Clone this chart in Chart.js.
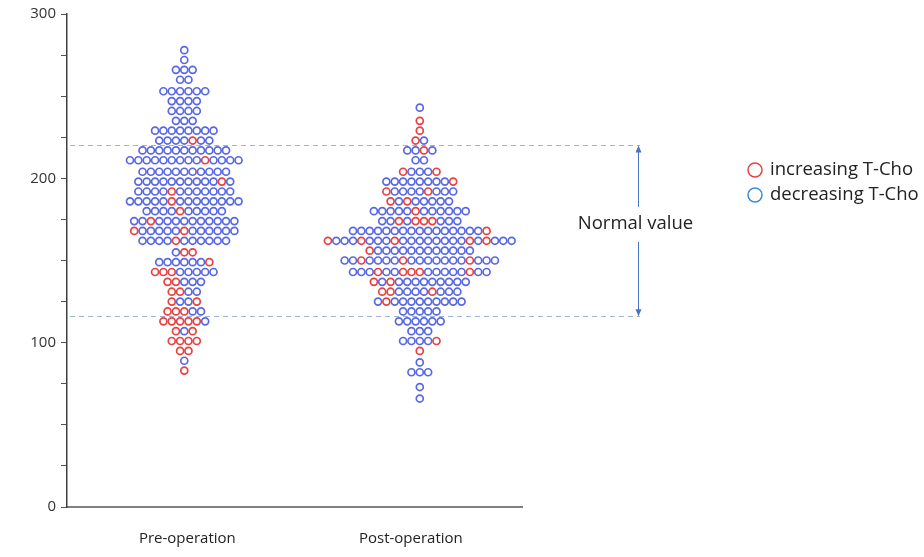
<!DOCTYPE html>
<html lang="en">
<head>
  <meta charset="UTF-8">
  <title>T-Cho before and after operation</title>
  <script src="https://cdn.jsdelivr.net/npm/chart.js"></script>
  <style>
    body {
      margin: 0;
      background: #ffffff;
      font-family: "Open Sans", sans-serif;
    }
    .wrap {
      position: relative;
      width: 924px;
      height: 557px;
    }
  </style>
</head>
<body>
  <div class="wrap">
    <canvas id="swarm"></canvas>
  </div>

  <script>
    const categories = ['Pre-operation', 'Post-operation'];
    const seriesNames = ['increasing T-Cho', 'decreasing T-Cho'];
    const normalRange = [116, 220];

    // pre-operation: one entry per row of the swarm (value, number of dots, which dots are red)
    const preRows = [278, 272, 266, 260, 253, 247, 241, 235, 229, 223, 217, 211, 204, 198, 192, 186, 180,
      174, 168, 162, 155, 149, 143, 137, 131, 125, 119, 113, 107, 101, 95, 89, 83];
    const preCounts = [1, 1, 3, 2, 6, 4, 4, 3, 8, 7, 11, 14, 11, 12, 12, 14, 10,
      13, 13, 11, 3, 7, 8, 5, 4, 4, 5, 6, 3, 4, 2, 1, 1];
    const preRed = [[], [], [], [], [], [], [], [], [], [4], [], [9], [], [10], [4], [5], [4],
      [2], [0, 6], [4], [1, 2], [6], [0, 1, 2], [0, 1], [0, 1], [0, 3], [0, 1, 2], [0, 1, 2, 3, 4], [0, 2], [0, 1, 2, 3], [0, 1], [], [0]];

    // post-operation
    const postRows = [243, 235, 229, 223, 217, 211, 204, 198, 192, 186, 180, 174, 168, 162, 156,
      150, 143, 137, 131, 125, 119, 113, 107, 101, 95, 88, 82, 73, 66];
    const postCounts = [1, 1, 1, 2, 4, 2, 5, 9, 9, 8, 12, 10, 17, 23, 13,
      19, 17, 12, 10, 11, 5, 6, 3, 5, 1, 1, 3, 1, 1];
    const postRed = [[], [0], [0], [0], [2], [], [0, 4], [8], [0, 5], [0, 2], [5], [2, 4, 5, 6], [16], [0, 4, 8, 17, 19], [0],
      [2, 7, 15], [3, 6, 7, 8, 14], [0, 2], [0, 1, 6], [1], [], [], [], [4], [0], [], [], [], []];

    const RED = '#e8413f';
    const BLUE = '#5868e4';
    const LEGEND_BLUE = '#3d8ec4';
    const STEP = 0.03545; // horizontal spacing of dots in a row (x units)

    function swarm(center, rows, counts, reds, wantRed) {
      const pts = [];
      rows.forEach((y, r) => {
        const n = counts[r];
        for (let j = 0; j < n; j++) {
          if (reds[r].includes(j) !== wantRed) continue;
          pts.push({ x: center + (j - (n - 1) / 2) * STEP, y: y });
        }
      });
      return pts;
    }

    const increasing = swarm(1, preRows, preCounts, preRed, true)
      .concat(swarm(2, postRows, postCounts, postRed, true));
    const decreasing = swarm(1, preRows, preCounts, preRed, false)
      .concat(swarm(2, postRows, postCounts, postRed, false));

    // dashed normal range lines, arrow, label and legend
    const annotations = {
      id: 'annotations',
      beforeDatasetsDraw(chart) {
        const { ctx, chartArea, scales } = chart;
        ctx.save();
        ctx.strokeStyle = '#9fb2d3';
        ctx.lineWidth = 1;
        ctx.setLineDash([5, 4]);
        normalRange.forEach(v => {
          const y = Math.round(scales.y.getPixelForValue(v)) + 0.5;
          ctx.beginPath();
          ctx.moveTo(chartArea.left + 3, y);
          ctx.lineTo(chartArea.right + 118, y);
          ctx.stroke();
        });
        ctx.restore();
      },
      afterDraw(chart) {
        const { ctx, chartArea, scales } = chart;
        const yTop = scales.y.getPixelForValue(normalRange[1]);
        const yBot = scales.y.getPixelForValue(normalRange[0]);
        const ax = chartArea.right + 116.5;
        const mid = (yTop + yBot) / 2 - 7;
        ctx.save();
        ctx.strokeStyle = '#4a72c0';
        ctx.fillStyle = '#4a72c0';
        ctx.lineWidth = 1;
        ctx.beginPath();
        ctx.moveTo(ax, yTop + 6);
        ctx.lineTo(ax, mid - 17);
        ctx.moveTo(ax, mid + 18);
        ctx.lineTo(ax, yBot - 6);
        ctx.stroke();
        ctx.beginPath();
        ctx.moveTo(ax, yTop);
        ctx.lineTo(ax - 3, yTop + 7);
        ctx.lineTo(ax + 3, yTop + 7);
        ctx.closePath();
        ctx.fill();
        ctx.beginPath();
        ctx.moveTo(ax, yBot);
        ctx.lineTo(ax - 3, yBot - 7);
        ctx.lineTo(ax + 3, yBot - 7);
        ctx.closePath();
        ctx.fill();

        ctx.fillStyle = '#222';
        ctx.font = '18.5px "Open Sans", sans-serif';
        ctx.textAlign = 'center';
        ctx.textBaseline = 'middle';
        ctx.fillText('Normal value', ax - 3, mid);

        // legend
        const lx = chartArea.right + 233;
        const colors = [RED, LEGEND_BLUE];
        ctx.textAlign = 'left';
        ctx.font = '18.5px "Open Sans", sans-serif';
        seriesNames.forEach((name, i) => {
          const ly = 170 + i * 25;
          ctx.beginPath();
          ctx.strokeStyle = colors[i];
          ctx.lineWidth = 1.5;
          ctx.arc(lx, ly, 7, 0, Math.PI * 2);
          ctx.stroke();
          ctx.fillStyle = '#222';
          ctx.fillText(name, lx + 15, ly);
        });
        ctx.restore();
      }
    };

    const ctx = document.getElementById('swarm').getContext('2d');
    new Chart(ctx, {
      type: 'scatter',
      data: {
        datasets: [
          {
            label: seriesNames[0],
            data: increasing,
            borderColor: RED,
            backgroundColor: 'rgba(0,0,0,0)',
            pointRadius: 3.5,
            pointBorderWidth: 1.7
          },
          {
            label: seriesNames[1],
            data: decreasing,
            borderColor: BLUE,
            backgroundColor: 'rgba(0,0,0,0)',
            pointRadius: 3.5,
            pointBorderWidth: 1.7
          }
        ]
      },
      options: {
        responsive: true,
        maintainAspectRatio: false,
        animation: false,
        layout: { padding: { top: 11, right: 402, left: 0, bottom: 0 } },
        plugins: {
          legend: { display: false },
          tooltip: { enabled: false }
        },
        scales: {
          x: {
            type: 'linear',
            min: 0.502,
            max: 2.434,
            grid: { drawOnChartArea: false, drawTicks: false },
            border: { display: true, color: '#808080', width: 2 },
            afterBuildTicks: s => { s.ticks = [{ value: 1.013 }, { value: 1.962 }]; },
            ticks: {
              callback: (v, i) => categories[i],
              padding: 23,
              color: '#222',
              font: { family: '"Open Sans", sans-serif', size: 15 }
            },
            afterFit: s => { s.height = 50; }
          },
          y: {
            min: 0,
            max: 300,
            ticks: {
              stepSize: 25,
              callback: v => (v % 100 === 0 ? v : ''),
              padding: 5,
              color: '#333',
              font: { family: '"Open Sans", sans-serif', size: 15 }
            },
            grid: { drawOnChartArea: false, drawTicks: true, tickLength: 6, color: '#555' },
            border: { color: '#404040', width: 1.5 },
            afterFit: s => { s.width = 67; }
          }
        }
      },
      plugins: [annotations]
    });
  </script>
</body>
</html>
